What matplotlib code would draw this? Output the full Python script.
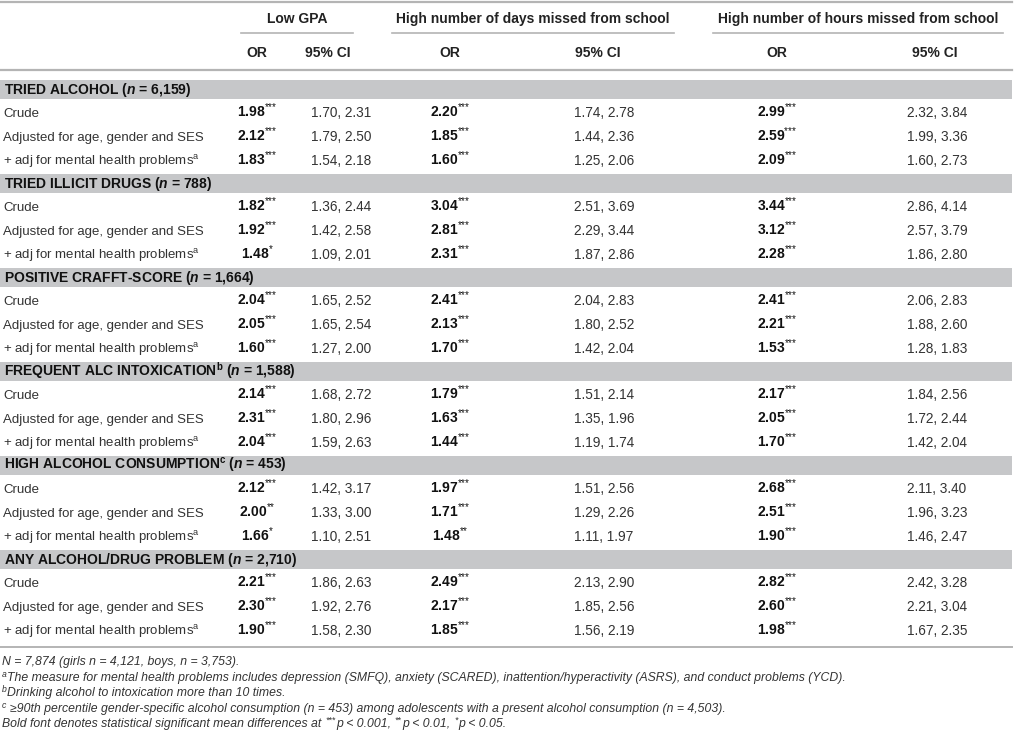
import matplotlib
matplotlib.use("Agg")
import matplotlib.pyplot as plt

plt.rcParams['font.family'] = ['Liberation Sans', 'DejaVu Sans']
plt.rcParams['mathtext.fontset'] = 'custom'
plt.rcParams['mathtext.rm'] = 'Liberation Sans'
plt.rcParams['mathtext.it'] = 'Liberation Sans:italic'
plt.rcParams['mathtext.bf'] = 'Liberation Sans:bold'
try:
    plt.rcParams['mathtext.bfit'] = 'Liberation Sans:bold:italic'
    BFIT = r'\mathbfit'
except KeyError:
    BFIT = r'\mathbf'

### 数据 ###
outcomes = ["Low GPA", "High number of days missed from school", "High number of hours missed from school"]
groups = ["TRIED ALCOHOL", "TRIED ILLICIT DRUGS", "POSITIVE CRAFFT-SCORE",
          "FREQUENT ALC INTOXICATION", "HIGH ALCOHOL CONSUMPTION", "ANY ALCOHOL/DRUG PROBLEM"]
group_sup = ["", "", "", "b", "c", ""]
group_n = ["6,159", "788", "1,664", "1,588", "453", "2,710"]
models = ["Crude", "Adjusted for age, gender and SES", "+ adj for mental health problems$^{\\mathrm{a}}$"]

gpa_or = [1.98, 2.12, 1.83, 1.82, 1.92, 1.48, 2.04, 2.05, 1.60,
          2.14, 2.31, 2.04, 2.12, 2.00, 1.66, 2.21, 2.30, 1.90]
gpa_sig = ["***", "***", "***", "***", "***", "*", "***", "***", "***",
           "***", "***", "***", "***", "**", "*", "***", "***", "***"]
gpa_ci = ["1.70, 2.31", "1.79, 2.50", "1.54, 2.18", "1.36, 2.44", "1.42, 2.58", "1.09, 2.01",
          "1.65, 2.52", "1.65, 2.54", "1.27, 2.00", "1.68, 2.72", "1.80, 2.96", "1.59, 2.63",
          "1.42, 3.17", "1.33, 3.00", "1.10, 2.51", "1.86, 2.63", "1.92, 2.76", "1.58, 2.30"]

days_or = [2.20, 1.85, 1.60, 3.04, 2.81, 2.31, 2.41, 2.13, 1.70,
           1.79, 1.63, 1.44, 1.97, 1.71, 1.48, 2.49, 2.17, 1.85]
days_sig = ["***"] * 14 + ["**"] + ["***"] * 3
days_ci = ["1.74, 2.78", "1.44, 2.36", "1.25, 2.06", "2.51, 3.69", "2.29, 3.44", "1.87, 2.86",
           "2.04, 2.83", "1.80, 2.52", "1.42, 2.04", "1.51, 2.14", "1.35, 1.96", "1.19, 1.74",
           "1.51, 2.56", "1.29, 2.26", "1.11, 1.97", "2.13, 2.90", "1.85, 2.56", "1.56, 2.19"]

hours_or = [2.99, 2.59, 2.09, 3.44, 3.12, 2.28, 2.41, 2.21, 1.53,
            2.17, 2.05, 1.70, 2.68, 2.51, 1.90, 2.82, 2.60, 1.98]
hours_sig = ["***"] * 18
hours_ci = ["2.32, 3.84", "1.99, 3.36", "1.60, 2.73", "2.86, 4.14", "2.57, 3.79", "1.86, 2.80",
            "2.06, 2.83", "1.88, 2.60", "1.28, 1.83", "1.84, 2.56", "1.72, 2.44", "1.42, 2.04",
            "2.11, 3.40", "1.96, 3.23", "1.46, 2.47", "2.42, 3.28", "2.21, 3.04", "1.67, 2.35"]

# 脚注：每行由若干段组成，(文字, 是否上标)
footnotes = [
    [("N = 7,874 (girls n = 4,121, boys, n = 3,753).", False)],
    [("a", True), ("The measure for mental health problems includes depression (SMFQ), anxiety (SCARED), "
                   "inattention/hyperactivity (ASRS), and conduct problems (YCD).", False)],
    [("b", True), ("Drinking alcohol to intoxication more than 10 times.", False)],
    [("c", True), ("\u226590th percentile gender-specific alcohol consumption (n = 453) among adolescents "
                   "with a present alcohol consumption (n = 4,503).", False)],
    [("Bold font denotes statistical significant mean differences at", False), ("***", True),
     ("p < 0.001,", False), ("**", True), ("p < 0.01,", False), ("*", True), ("p < 0.05.", False)],
]


def stars(s):
    ''' 把星号分组，避免 mathtext 当作运算符加间距 '''
    return "".join("{*}" for _ in s)


### 布局（像素） ###
W, H = 1014, 744
FS = 9.5
FSB = 10
FSN = 8.8
LINE = "#b4b4b4"
BAND = "#c6c7c9"
BL = 5   # 行中心到基线的偏移

fig = plt.figure(figsize=(W / 100, H / 100), dpi=100)
ax = fig.add_axes([0, 0, 1, 1])
ax.set_xlim(0, W)
ax.set_ylim(H, 0)
ax.axis("off")
renderer = fig.canvas.get_renderer()

# 列位置
or_x = [257, 450, 777]
ci_head_x = [328, 598, 935]
ci_x = [341, 604, 937]
head_x = [297, 533, 858]
under = [(241, 353), (392, 674), (713, 1003)]
data = [(gpa_or, gpa_sig, gpa_ci), (days_or, days_sig, days_ci), (hours_or, hours_sig, hours_ci)]

# 表头
ax.plot([0, 1012], [2, 2], color=LINE, lw=1.6)
for k in range(3):
    ax.text(head_x[k], 18 + BL, outcomes[k], ha="center", va="baseline", fontsize=FSB, fontweight="bold", color="#222222")
    ax.plot(under[k], [33, 33], color=LINE, lw=1.2)
    ax.text(or_x[k], 52 + BL, "OR", ha="center", va="baseline", fontsize=FSB, fontweight="bold", color="#222222")
    ax.text(ci_head_x[k], 52 + BL, "95% CI", ha="center", va="baseline", fontsize=FSB, fontweight="bold", color="#222222")
ax.plot([0, 1012], [70, 70], color=LINE, lw=1.6)

# 表体
row_h = 23.5
y0 = 89
for g in range(len(groups)):
    yb = round(y0 + g * 4 * row_h)
    ax.fill_between([0, 1012], yb - 9.5, yb + 9.5, color=BAND, lw=0)
    sup = "$^{\\mathbf{%s}}$" % group_sup[g] if group_sup[g] else ""
    ax.text(4, yb + BL, "%s%s ($%s{n}$ = %s)" % (groups[g], sup, BFIT, group_n[g]),
            ha="left", va="baseline", fontsize=FSB, fontweight="bold", color="#111111")
    for j in range(3):
        i = g * 3 + j
        y = round(yb + (j + 1) * row_h) + BL
        ax.text(3, y, models[j], ha="left", va="baseline", fontsize=FS, color="#333333")
        for k in range(3):
            vals, sigs, cis = data[k]
            ax.text(or_x[k], y, "%.2f$^{\\mathrm{%s}}$" % (vals[i], stars(sigs[i])), ha="center", va="baseline",
                    fontsize=FSB, fontweight="bold", color="#111111")
            ax.text(ci_x[k], y, cis[i], ha="center", va="baseline", fontsize=9.8, color="#333333")

ax.plot([0, 1012], [647, 647], color=LINE, lw=1.4)

# 脚注（逐段排版，上标单独画小字）
for n, runs in enumerate(footnotes):
    x = 2
    y = round(661 + n * 15.6) + 4
    prev_sup = None
    for s, is_sup in runs:
        if is_sup:
            if prev_sup is False:
                x += 3.4
            t = ax.text(x, y - 4, s, ha="left", va="baseline", fontsize=6.2, style="italic", color="#333333")
        else:
            if prev_sup is False:
                x += 3.4
            elif s.startswith("\u2265"):
                x += 3.0
            t = ax.text(x, y, s, ha="left", va="baseline", fontsize=FSN, style="italic", color="#333333")
        x += t.get_window_extent(renderer).width + 0.6
        prev_sup = is_sup

fig.savefig("out.png", dpi=100)
